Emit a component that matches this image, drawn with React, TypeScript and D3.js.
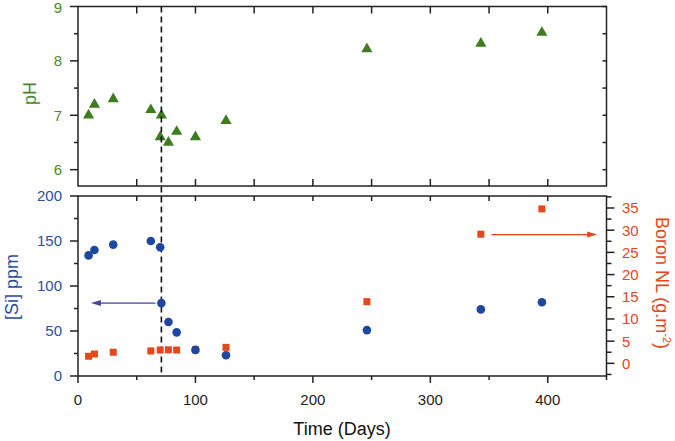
import React from "react";
import * as d3 from "d3";

// ---- data ----
const phDays = [9, 14, 30, 62, 71, 70, 77, 84, 100, 126, 246, 343, 395];
const phValues = [7.0, 7.2, 7.3, 7.1, 7.0, 6.6, 6.5, 6.7, 6.6, 6.9, 8.22, 8.32, 8.52];

const siDays = [9, 14, 30, 62, 70, 71, 77, 84, 100, 126, 246, 343, 395];
const siValues = [134, 140, 146, 150, 143, 81, 60, 48.5, 29, 23, 51, 74, 82];

const boronDays = [9, 14, 30, 62, 70, 77, 84, 100, 126, 246, 343, 395];
const boronValues = [1.6, 2.1, 2.5, 2.8, 3.0, 3.05, 3.0, 3.05, 3.6, 13.9, 29.1, 34.8];

const xTickLabels = [0, 100, 200, 300, 400];
const phTickLabels = [6, 7, 8, 9];
const siTickLabels = [0, 50, 100, 150, 200];
const boronTickLabels = [0, 5, 10, 15, 20, 25, 30, 35];
const eventDay = 71;
const siArrow = { from: 66, to: 11, value: 81 };
const boronArrow = { from: 352, to: 442, value: 29 };

const GREEN = "#3e7d1f";
const GREEN_TXT = "#4b8a2c";
const BLUE = "#1d47a0";
const BLUE_TXT = "#2b4f9e";
const ORANGE = "#e6461a";
const ARROW_BLUE = "#4545a0";
const AXIS = "#222";
const FONT = "Liberation Sans, Arial, sans-serif";

export default function App() {
  const W = 675, H = 441;
  const x = d3.scaleLinear().domain([0, 450]).range([78, 606.5]);
  const yPh = d3.scaleLinear().domain([5.7, 9]).range([186, 6.5]);
  const ySi = d3.scaleLinear().domain([0, 200]).range([376, 196]);
  const yB = d3.scaleLinear().domain([-2.85, 37.7]).range([376, 196]);

  const x50 = d3.range(0, 451, 50);
  const tri = d3.symbol(d3.symbolTriangle, 54)()!;

  const lw = 1.5;
  const arrowHead = (xTip: number, y: number, dir: number, color: string) => {
    const L = 10, hw = 3;
    return <polygon points={`${xTip},${y} ${xTip - dir * L},${y - hw} ${xTip - dir * L},${y + hw}`} fill={color} />;
  };

  return (
    <svg width={W} height={H} style={{ position: "absolute", left: 0, top: 0, background: "#fff" }} fontFamily={FONT}>
      <rect x={0} y={0} width={W} height={H} fill="#fff" />

      {/* ===== TOP PANEL ===== */}
      <rect x={x(0)} y={yPh(9)} width={x(450) - x(0)} height={yPh(5.7) - yPh(9)} fill="none" stroke={AXIS} strokeWidth={lw} />
      {x50.slice(1, -1).map((d) => (
        <g key={"tt" + d}>
          <line x1={x(d)} x2={x(d)} y1={yPh(9)} y2={yPh(9) + 7} stroke={AXIS} strokeWidth={lw} />
          <line x1={x(d)} x2={x(d)} y1={yPh(5.7)} y2={yPh(5.7) - 7} stroke={AXIS} strokeWidth={lw} />
        </g>
      ))}
      {d3.range(6, 9.01, 0.5).map((d) => {
        const major = Math.abs(d - Math.round(d)) < 1e-6;
        return (
          <g key={"pt" + d}>
            <line x1={x(0)} x2={x(0) - (major ? 8 : 4)} y1={yPh(d)} y2={yPh(d)} stroke={AXIS} strokeWidth={lw} />
            <line x1={x(450)} x2={x(450) - 4} y1={yPh(d)} y2={yPh(d)} stroke={AXIS} strokeWidth={lw} />
          </g>
        );
      })}
      {phTickLabels.map((d) => (
        <text key={"pl" + d} x={62} y={Math.max(yPh(d) + 5.4, 13)} textAnchor="end" fontSize={15} fill={GREEN_TXT}>{d}</text>
      ))}
      <text transform={`translate(36,${yPh(7.4)}) rotate(-90)`} textAnchor="middle" fontSize={18} fill={GREEN_TXT}>pH</text>
      {phDays.map((d, i) => (
        <path key={"ph" + i} d={tri} transform={`translate(${x(d)},${yPh(phValues[i])})`} fill={GREEN} />
      ))}

      {/* ===== BOTTOM PANEL ===== */}
      <rect x={x(0)} y={ySi(200)} width={x(450) - x(0)} height={ySi(0) - ySi(200)} fill="none" stroke={AXIS} strokeWidth={lw} />
      {x50.slice(1, -1).map((d) => (
        <line key={"bt" + d} x1={x(d)} x2={x(d)} y1={ySi(200)} y2={ySi(200) + 5} stroke={AXIS} strokeWidth={lw} />
      ))}
      {x50.map((d) => (
        <line key={"bx" + d} x1={x(d)} x2={x(d)} y1={ySi(0)} y2={ySi(0) + (d % 100 === 0 ? 7 : 4)} stroke={AXIS} strokeWidth={lw} />
      ))}
      {xTickLabels.map((d) => (
        <text key={"xl" + d} x={x(d)} y={405} textAnchor="middle" fontSize={15} fill="#222">{d}</text>
      ))}
      <text x={342} y={435} textAnchor="middle" fontSize={18} fill="#111">Time (Days)</text>

      {d3.range(0, 201, 25).map((d) => (
        <line key={"sy" + d} x1={x(0)} x2={x(0) - (d % 50 === 0 ? 8 : 4)} y1={ySi(d)} y2={ySi(d)} stroke={AXIS} strokeWidth={lw} />
      ))}
      {siTickLabels.map((d) => (
        <text key={"sl" + d} x={62} y={ySi(d)} dy="0.36em" textAnchor="end" fontSize={15} fill={BLUE_TXT}>{d}</text>
      ))}
      <text transform={`translate(18,${ySi(100) + 1}) rotate(-90)`} textAnchor="middle" fontSize={18} fill={BLUE_TXT}>[Si] ppm</text>

      {d3.range(-2.5, 37.6, 2.5).map((d) => (
        <line key={"by" + d} x1={x(450)} x2={x(450) + (d % 5 === 0 ? 8 : 5)} y1={yB(d)} y2={yB(d)} stroke={AXIS} strokeWidth={lw} />
      ))}
      {boronTickLabels.map((d) => (
        <text key={"bl" + d} x={622} y={yB(d)} dy="0.36em" textAnchor="start" fontSize={15} fill={ORANGE}>{d}</text>
      ))}
      <text transform={`translate(656,${ySi(100) - 3}) rotate(90)`} textAnchor="middle" fontSize={18} fill={ORANGE}>
        Boron NL (g.m<tspan dy={-7} fontSize={11}>-2</tspan><tspan dy={7}>)</tspan>
      </text>

      {/* dashed event line */}
      <line x1={x(eventDay)} x2={x(eventDay)} y1={yPh(9)} y2={ySi(0)} stroke="#111" strokeWidth={1.6} strokeDasharray="6,4" />

      {/* boron squares */}
      {boronDays.map((d, i) => (
        <rect key={"b" + i} x={x(d) - 3.5} y={yB(boronValues[i]) - 3.5} width={7} height={7} fill={ORANGE} />
      ))}
      {/* Si circles */}
      {siDays.map((d, i) => (
        <circle key={"s" + i} cx={x(d)} cy={ySi(siValues[i])} r={4.3} fill={BLUE} />
      ))}

      {/* arrows */}
      <line x1={x(siArrow.from)} x2={x(siArrow.to) + 8} y1={ySi(siArrow.value)} y2={ySi(siArrow.value)} stroke={ARROW_BLUE} strokeWidth={1.3} />
      {arrowHead(x(siArrow.to), ySi(siArrow.value), -1, ARROW_BLUE)}
      <line x1={x(boronArrow.from)} x2={x(boronArrow.to) - 8} y1={yB(boronArrow.value)} y2={yB(boronArrow.value)} stroke={ORANGE} strokeWidth={1.3} />
      {arrowHead(x(boronArrow.to), yB(boronArrow.value), 1, ORANGE)}
    </svg>
  );
}
